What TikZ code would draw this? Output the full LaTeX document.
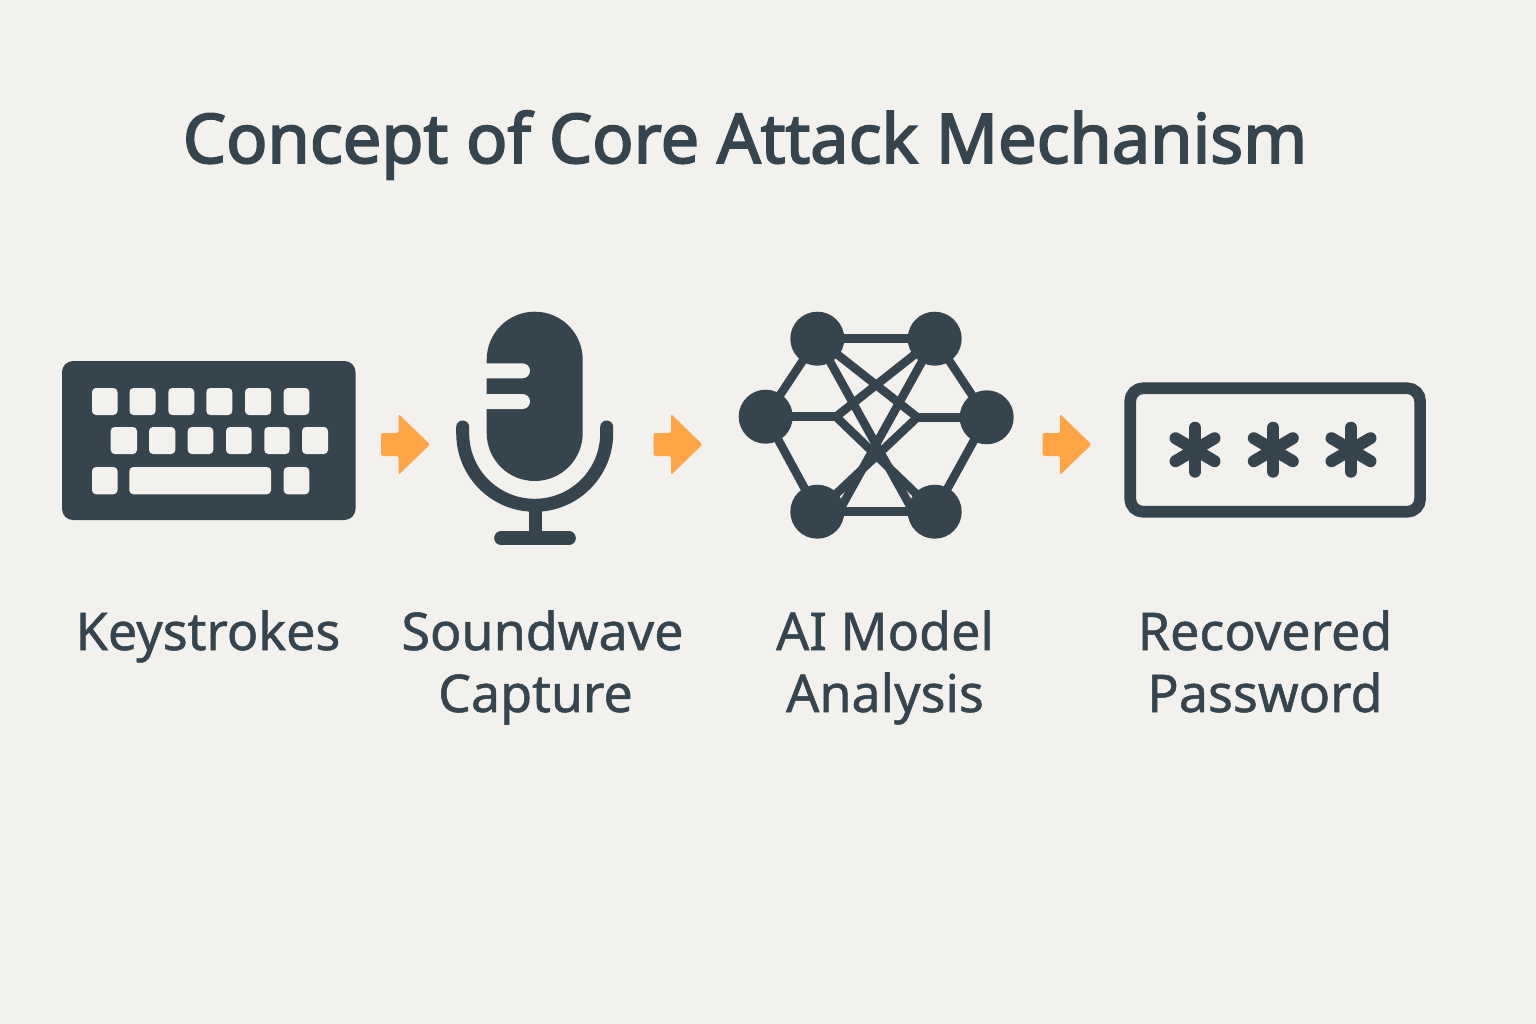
\documentclass[tikz,border=0pt]{standalone}
\usepackage{fontspec}
\setmainfont{Noto Sans}
\newfontfamily\labelfont{Noto Sans}[FakeBold=1.0]
\newfontfamily\titlefont{Noto Sans}[FakeBold=2.6]
\definecolor{bgc}{HTML}{F2F1ED}
\definecolor{ink}{HTML}{36444E}
\definecolor{amber}{HTML}{FFA545}
\tikzset{
  keycap/.style={fill=bgc,rounded corners=4pt},
  flowarrow/.style={fill=amber,rounded corners=1.5pt},
  label/.style={text=ink,font=\labelfont\fontsize{52}{62}\selectfont,align=center,anchor=base,inner sep=0pt},
  netnode/.style={circle,fill=ink,minimum size=54pt,inner sep=0pt},
  netlink/.style={draw=ink,line width=8.5pt},
  asteriskarm/.style={draw=ink,line width=12pt,line cap=round},
}
\newcommand{\flowarrowat}[1]{%
  \fill[flowarrow,shift={(#1,0)}] (0,433) -- (17.5,433) -- (17.5,414) -- (49,444.5) -- (17.5,475) -- (17.5,456) -- (0,456) -- cycle;}
\newcommand{\asteriskat}[1]{%
  \begin{scope}[shift={(#1,449.7)}]
    \draw[asteriskarm] (0,-22) -- (0,22);
    \draw[asteriskarm] (-19.5,-11.5) -- (19.5,11.5);
    \draw[asteriskarm] (-19.5,11.5) -- (19.5,-11.5);
  \end{scope}}
\begin{document}
\begin{tikzpicture}[x=1pt,y=-1pt]
\useasboundingbox (0,0) rectangle (1536,1024);
\fill[bgc] (0,0) rectangle (1536,1024);
% title
\node[text=ink,font=\titlefont\fontsize{68.5}{72}\selectfont,anchor=base,inner sep=0pt] (title) at (745,163) {Concept of Core Attack Mechanism};
% keyboard
\fill[ink,rounded corners=11pt] (62,361) rectangle (355.5,520);
\foreach \x/\w in {92/25.5,129.5/26,168.3/26,206.3/26,245/26,283.7/25.6}
  \fill[keycap] (\x,388) rectangle ++(\w,27);
\foreach \x/\w in {110.7/26.3,149/26.3,187.7/25.6,226/25.7,264.3/25.4,302/26}
  \fill[keycap] (\x,427) rectangle ++(\w,27);
\fill[keycap] (92,467) rectangle ++(25.5,27.3);
\fill[keycap] (129.3,467) rectangle ++(141.7,27.3);
\fill[keycap] (283.7,467) rectangle ++(25.6,27.3);
% arrows
\flowarrowat{381}
\flowarrowat{653.5}
\flowarrowat{1042.5}
% microphone
\fill[ink,rounded corners=47.9pt] (486.7,311.7) rectangle (582.7,481);
\fill[bgc] (480,363.3) -- (522.5,363.3) arc[start angle=-90,end angle=90,radius=7.5] -- (480,378.3) -- cycle;
\fill[bgc] (480,394) -- (522.5,394) arc[start angle=-90,end angle=90,radius=7.5] -- (480,409) -- cycle;
\draw[ink,line width=13pt,line cap=round] (462.7,427) -- (462.7,433.3) arc[start angle=180,end angle=0,radius=72] -- (606.7,427);
\draw[ink,line width=12.5pt] (535.5,505) -- (535.5,538);
\draw[ink,line width=13.7pt,line cap=round] (501,538.2) -- (569,538.2);
% network
\coordinate (jl) at (836,416.7);
\coordinate (jr) at (917.3,417.3);
\coordinate (brt) at (913.3,511.7);
\coordinate (blt) at (838.7,511.7);
\node[netnode] (tl) at (817.3,338.7) {};
\node[netnode] (tr) at (934.7,338.7) {};
\node[netnode] (l) at (765.7,416.7) {};
\node[netnode] (r) at (986.7,417.3) {};
\node[netnode] (bl) at (817.3,511.7) {};
\node[netnode] (br) at (934.7,511.7) {};
\draw[netlink] (tl.center) -- (tr.center);
\draw[netlink] (bl.center) -- (br.center);
\draw[netlink] (tl.center) -- (l.center);
\draw[netlink] (tr.center) -- (r.center);
\draw[netlink] (l.center) -- (bl.center);
\draw[netlink] (r.center) -- (br.center);
\draw[netlink] (l.center) -- (jl);
\draw[netlink] (r.center) -- (jr);
\draw[netlink] (jl) -- (tr.center);
\draw[netlink] (jl) -- (br.center);
\draw[netlink] (jr) -- (tl.center);
\draw[netlink] (jr) -- (bl.center);
\draw[netlink] (tl.center) -- (brt);
\draw[netlink] (tr.center) -- (blt);
% password
\draw[ink,line width=11.7pt,rounded corners=13pt] (1130.2,388.2) rectangle (1420.1,511.8);
\asteriskat{1195}
\asteriskat{1273.3}
\asteriskat{1351}
% labels
\node[label] (lab1) at (208,650) {Keystrokes};
\node[label] (lab2) at (535.5,712) {\hspace*{14pt}Soundwave\\Capture};
\node[label] (lab3) at (885,712) {AI Model\\Analysis};
\node[label] (lab4) at (1265,712) {Recovered\\Password};
\end{tikzpicture}
\end{document}
